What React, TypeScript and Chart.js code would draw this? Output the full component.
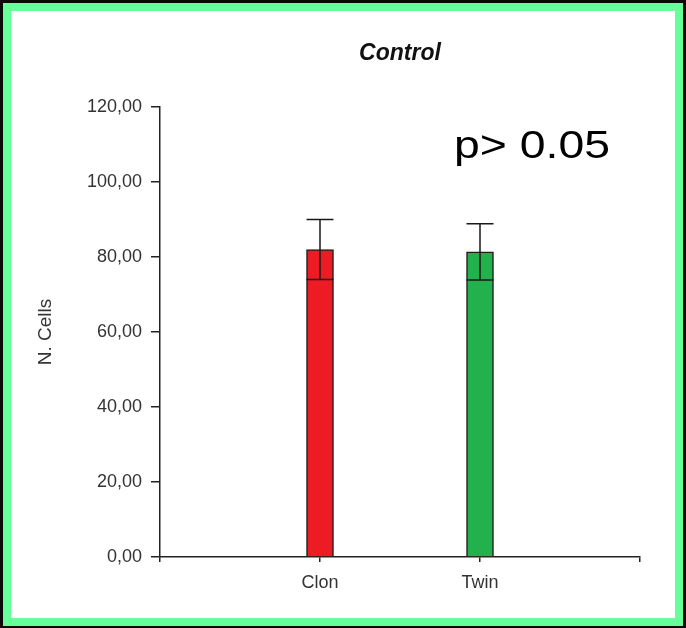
import React, { useEffect, useRef } from 'react';
import { Chart, registerables } from 'chart.js';

Chart.register(...registerables);

const categories = ['Clon', 'Twin'];
const means = [82, 81.4];
const errors = [8, 7.5];
const barColors = ['#ed1c24', '#22b14c'];
const yTickValues = [0, 20, 40, 60, 80, 100, 120];
const chartTitle = 'Control';
const yAxisTitle = 'N. Cells';
const annotationText = 'p> 0.05';

const FONT = '"Liberation Sans", Arial, Helvetica, sans-serif';
const W = 664;
const H = 607;

const errorBarPlugin = {
  id: 'errorBars',
  afterDatasetsDraw(chart: any) {
    const meta = chart.getDatasetMeta(0);
    const y = chart.scales.y;
    const ctx = chart.ctx;
    ctx.save();
    ctx.strokeStyle = '#1a1a1a';
    ctx.lineWidth = 1.5;
    categories.forEach((_c, i) => {
      const el = meta.data[i + 1];
      if (!el) return;
      const x = el.x;
      const half = el.width / 2;
      const top = y.getPixelForValue(means[i] + errors[i]);
      const bot = y.getPixelForValue(means[i] - errors[i]);
      ctx.beginPath();
      ctx.moveTo(x, top);
      ctx.lineTo(x, bot);
      ctx.moveTo(x - half, top);
      ctx.lineTo(x + half, top);
      ctx.moveTo(x - half, bot);
      ctx.lineTo(x + half, bot);
      ctx.stroke();
    });
    ctx.restore();
  },
};

const textPlugin = {
  id: 'texts',
  afterDraw(chart: any) {
    const ctx = chart.ctx;
    const area = chart.chartArea;
    ctx.save();
    ctx.fillStyle = '#111';
    ctx.font = `italic bold 23px ${FONT}`;
    ctx.textAlign = 'center';
    ctx.textBaseline = 'middle';
    ctx.fillText(chartTitle, (area.left + area.right) / 2, 43);

    ctx.translate(443, 147);
    ctx.scale(1.22, 1);
    ctx.font = `38px ${FONT}`;
    ctx.textAlign = 'left';
    ctx.textBaseline = 'alphabetic';
    ctx.fillStyle = '#000';
    ctx.fillText(annotationText, 0, 0);
    ctx.restore();
  },
};

export default function App() {
  const ref = useRef<HTMLCanvasElement | null>(null);

  useEffect(() => {
    if (!ref.current) return;
    const labels = ['', ...categories, ''];
    const data = [null, ...means, null];
    const colors = ['transparent', ...barColors, 'transparent'];
    const chart = new Chart(ref.current, {
      type: 'bar',
      data: {
        labels,
        datasets: [
          {
            data: data as any,
            backgroundColor: colors,
            borderColor: '#1e1e1e',
            borderWidth: 1.5,
            barThickness: 27,
          },
        ],
      },
      options: {
        animation: false,
        responsive: false,
        devicePixelRatio: 1,
        layout: { padding: { left: 0, right: 35, top: 96, bottom: 0 } },
        plugins: {
          legend: { display: false },
          title: { display: false },
          tooltip: { enabled: false },
        },
        scales: {
          x: {
            type: 'category',
            offset: false,
            border: { display: true, color: '#222', width: 1.5 },
            grid: {
              display: true,
              offset: false,
              drawOnChartArea: false,
              drawTicks: true,
              tickLength: 5,
              color: '#222',
              lineWidth: 1.5,
            },
            ticks: {
              color: '#333',
              font: { family: FONT, size: 18 },
              padding: 10,
              autoSkip: false,
              maxRotation: 0,
            },
            afterFit: (s: any) => {
              s.height = 61;
            },
          },
          y: {
            min: 0,
            max: 120,
            border: { display: true, color: '#222', width: 1.5 },
            grid: {
              display: true,
              drawOnChartArea: false,
              drawTicks: true,
              tickLength: 9,
              color: '#222',
              lineWidth: 1.5,
            },
            ticks: {
              color: '#333',
              font: { family: FONT, size: 18 },
              padding: 9,
              callback: (v: any) => Number(v).toFixed(2).replace('.', ','),
            },
            afterBuildTicks: (s: any) => {
              s.ticks = yTickValues.map((v) => ({ value: v }));
            },
            title: {
              display: true,
              text: yAxisTitle,
              color: '#333',
              font: { family: FONT, size: 19 },
              padding: { top: 23, bottom: 0 },
            },
            afterFit: (s: any) => {
              s.width = 149;
            },
          },
        },
      },
      plugins: [errorBarPlugin, textPlugin],
    });
    return () => chart.destroy();
  }, []);

  return (
    <div
      style={{
        position: 'absolute',
        left: 0,
        top: 0,
        width: 686,
        height: 628,
        boxSizing: 'border-box',
        background: '#0a0a0a',
        padding: '3px 3px 2px 3px',
      }}
    >
      <div
        style={{
          width: '100%',
          height: '100%',
          boxSizing: 'border-box',
          background: '#66ff99',
          padding: 8,
        }}
      >
        <div style={{ width: W, height: H, background: '#fff' }}>
          <canvas ref={ref} width={W} height={H} style={{ width: W, height: H, display: 'block' }} />
        </div>
      </div>
    </div>
  );
}
